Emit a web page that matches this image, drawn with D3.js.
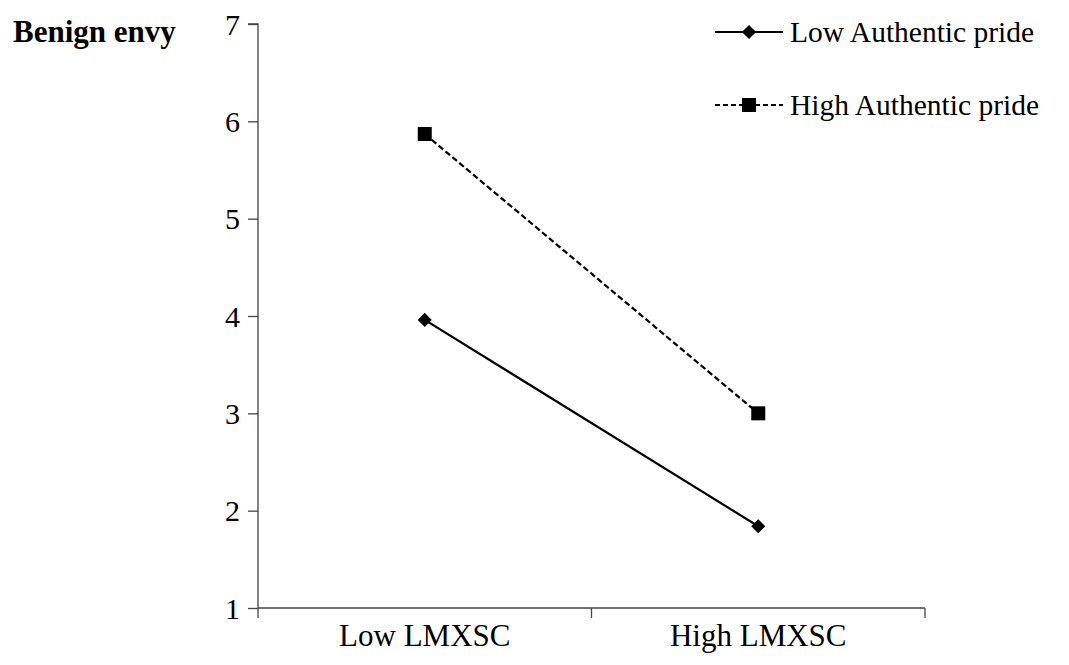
<!DOCTYPE html>
<html>
<head>
<meta charset="utf-8">
<script src="https://cdn.jsdelivr.net/npm/d3@7"></script>
<style>
  body { margin: 0; background: #fff; }
  svg { display: block; font-family: "Liberation Serif", "Times New Roman", serif; }
</style>
</head>
<body>
<svg id="chart" width="1069" height="665"></svg>
<script>
// data
const categories = ['Low LMXSC', 'High LMXSC'];
const lowPride = [3.96, 1.84];
const highPride = [5.87, 3.0];
const yTicks = [1, 2, 3, 4, 5, 6, 7];
const seriesNames = ['Low Authentic pride', 'High Authentic pride'];

const serif = '"Liberation Serif", "Times New Roman", serif';
const svg = d3.select('#chart');

const x = d3.scaleBand().domain(categories).range([258, 925]);
const y = d3.scaleLinear().domain([1, 7]).range([608, 24]);

// y axis
const yAxis = svg.append('g')
    .attr('transform', 'translate(258,0)')
    .call(d3.axisLeft(y).tickValues(yTicks).tickSize(10).tickPadding(8).tickFormat(d3.format('d')));
yAxis.attr('font-family', serif);
yAxis.selectAll('text').style('font-size', '30px').attr('dy', '0.34em').attr('fill', '#000');
yAxis.selectAll('line, path').attr('stroke', '#444').attr('stroke-width', 1.3);
yAxis.select('.domain').attr('d', 'M-10,24H0V608');

// x axis
const xAxis = svg.append('g')
    .attr('transform', 'translate(0,608)')
    .call(d3.axisBottom(x).tickSize(0).tickPadding(16));
xAxis.attr('font-family', serif);
xAxis.selectAll('text').style('font-size', '31px').attr('dy', '0.71em').attr('fill', '#000');
xAxis.select('.domain').attr('d', 'M258,0H925').attr('stroke', '#444').attr('stroke-width', 1.3);
// category separators
const seps = [x.range()[0], x(categories[1]), x.range()[1]];
xAxis.selectAll('.sep').data(seps).enter().append('line')
    .attr('x1', d => d).attr('x2', d => d)
    .attr('y1', 0).attr('y2', 10)
    .attr('stroke', '#444').attr('stroke-width', 1.3);

// y title
svg.append('text')
    .attr('x', 13).attr('y', 42)
    .style('font-size', '31px').style('font-weight', 'bold')
    .text('Benign envy');

const cx = d => x(d) + x.bandwidth() / 2;
const line = d3.line().x(d => cx(d.c)).y(d => y(d.v));

const lowData = categories.map((c, i) => ({ c: c, v: lowPride[i] }));
const highData = categories.map((c, i) => ({ c: c, v: highPride[i] }));

svg.append('path').datum(highData)
    .attr('d', line).attr('fill', 'none')
    .attr('stroke', '#000').attr('stroke-width', 2.2).attr('stroke-dasharray', '6,3');
svg.append('path').datum(lowData)
    .attr('d', line).attr('fill', 'none')
    .attr('stroke', '#000').attr('stroke-width', 2.2);

const diamond = d3.symbol().type(d3.symbolSquare).size(100);
svg.selectAll('.dia').data(lowData).enter().append('path')
    .attr('transform', d => `translate(${cx(d.c)},${y(d.v)}) rotate(45)`)
    .attr('d', diamond)
    .attr('fill', '#000');

svg.selectAll('.sq').data(highData).enter().append('rect')
    .attr('x', d => cx(d.c) - 7).attr('y', d => y(d.v) - 7)
    .attr('width', 14).attr('height', 14).attr('fill', '#000');

// legend
const legend = svg.append('g');
const legY = [32, 105];
legend.append('line').attr('x1', 715).attr('x2', 783).attr('y1', legY[0]).attr('y2', legY[0])
    .attr('stroke', '#000').attr('stroke-width', 2.2);
legend.append('path')
    .attr('transform', `translate(749,${legY[0]}) rotate(45)`)
    .attr('d', diamond)
    .attr('fill', '#000');
legend.append('line').attr('x1', 715).attr('x2', 783).attr('y1', legY[1]).attr('y2', legY[1])
    .attr('stroke', '#000').attr('stroke-width', 2.2).attr('stroke-dasharray', '5,3');
legend.append('rect').attr('x', 742).attr('y', legY[1] - 7).attr('width', 14).attr('height', 14).attr('fill', '#000');
legend.selectAll('text').data(seriesNames).enter().append('text')
    .attr('x', 790).attr('y', (d, i) => legY[i] + 10)
    .style('font-size', '29.5px')
    .text(d => d);
</script>
</body>
</html>
